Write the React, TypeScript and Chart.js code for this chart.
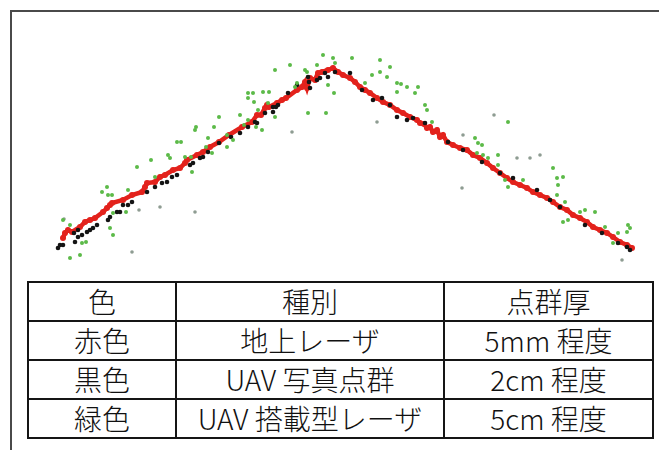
import React, { useEffect, useRef } from "react";
import { Chart, registerables } from "chart.js";

Chart.register(...registerables);

// Cross-section point clouds: x = horizontal position, y = elevation (relative units)
const redX = [63, 65, 68, 72, 80, 85, 90, 95, 103, 107, 110, 112, 123, 132, 142, 145, 147, 155, 160, 165, 173, 180, 185, 187, 197, 203, 210, 219, 229, 242, 252, 257, 261, 265, 267, 269, 277, 282, 286, 297, 302, 305, 307, 310, 315, 318, 322, 328, 333, 338, 343, 350, 355, 360, 365, 370, 377, 383, 390, 397, 403, 410, 417, 420, 424, 427, 430, 433, 437, 440, 443, 447, 453, 460, 467, 473, 480, 487, 493, 500, 507, 513, 520, 527, 533, 540, 547, 553, 560, 567, 573, 580, 587, 593, 600, 607, 613, 620, 627, 632];
const redY = [62, 67, 70, 68, 73, 78, 80, 82, 88, 92, 95, 97, 100, 105, 108, 113, 117, 118, 123, 125, 130, 132, 137, 140, 145, 148, 153, 158, 165, 173, 178, 185, 185, 192, 195, 193, 197, 200, 202, 210, 213, 218, 212, 222, 220, 227, 228, 230, 232, 228, 225, 222, 218, 213, 210, 207, 202, 198, 195, 190, 187, 183, 180, 177, 176, 172, 173, 168, 170, 163, 165, 158, 155, 152, 150, 145, 142, 137, 132, 127, 122, 118, 115, 112, 108, 105, 102, 98, 93, 90, 85, 82, 78, 73, 70, 67, 63, 58, 55, 52];

const blackX = [58, 60, 63, 74, 75, 78, 78, 82, 87, 90, 93, 97, 108, 110, 117, 120, 123, 128, 132, 147, 155, 162, 167, 172, 177, 190, 193, 200, 203, 208, 219, 231, 240, 248, 255, 257, 265, 273, 273, 276, 278, 288, 297, 308, 309, 310, 317, 320, 325, 328, 335, 350, 362, 373, 382, 390, 397, 407, 413, 425, 448, 463, 482, 500, 513, 537, 550, 560, 585, 602, 618, 627, 630];
const blackY = [52, 55, 55, 67, 58, 63, 70, 65, 68, 70, 72, 75, 80, 83, 88, 88, 95, 95, 98, 108, 113, 117, 118, 123, 125, 135, 137, 142, 143, 148, 157, 163, 167, 173, 178, 177, 187, 188, 193, 193, 195, 207, 215, 223, 218, 212, 220, 222, 227, 223, 228, 227, 210, 200, 202, 195, 183, 180, 182, 177, 158, 150, 138, 127, 122, 110, 100, 93, 75, 67, 57, 53, 50];

const greenX = [63, 70, 70, 80, 82, 86, 102, 107, 108, 112, 110, 113, 113, 126, 128, 137, 151, 155, 168, 170, 177, 181, 185, 192, 191, 196, 195, 206, 208, 212, 214, 219, 227, 227, 233, 240, 244, 248, 248, 248, 253, 254, 256, 258, 262, 263, 268, 269, 275, 275, 290, 295, 297, 305, 307, 308, 317, 323, 326, 328, 333, 334, 335, 352, 365, 372, 380, 380, 387, 390, 397, 397, 401, 407, 415, 418, 425, 427, 432, 475, 478, 482, 477, 483, 488, 498, 498, 505, 508, 508, 523, 553, 557, 563, 558, 557, 565, 580, 585, 595, 568, 563, 605, 618, 628, 630, 627, 613];
const greenY = [80, 75, 42, 45, 57, 58, 108, 113, 105, 105, 72, 65, 87, 88, 110, 133, 140, 123, 145, 142, 158, 158, 143, 128, 143, 173, 170, 153, 162, 147, 173, 183, 165, 153, 160, 185, 175, 207, 202, 180, 207, 198, 173, 190, 170, 208, 197, 208, 230, 183, 235, 213, 217, 230, 228, 187, 235, 245, 187, 215, 242, 207, 237, 242, 217, 225, 240, 228, 223, 233, 217, 208, 216, 213, 207, 213, 195, 190, 178, 162, 157, 155, 147, 145, 142, 145, 135, 120, 113, 178, 120, 132, 122, 123, 115, 105, 98, 88, 90, 88, 80, 78, 73, 67, 75, 72, 68, 57];

const grayX = [64, 132, 139, 160, 195, 292, 377, 462, 463, 494, 517, 530, 540, 622];
const grayY = [81, 48, 90, 93, 88, 168, 178, 112, 165, 185, 142, 142, 145, 40];

const headers = ["色", "種別", "点群厚"];
const colorNames = ["赤色", "黒色", "緑色"];
const kinds = ["地上レーザ", "UAV 写真点群", "UAV 搭載型レーザ"];
const thickness = ["5mm 程度", "2cm 程度", "5cm 程度"];

const pts = (xs: number[], ys: number[]) => xs.map((x, i) => ({ x, y: ys[i] }));

export default function App() {
  const ref = useRef<HTMLCanvasElement | null>(null);

  useEffect(() => {
    document.body.style.margin = "0";
    const ctx = ref.current!;
    const chart = new Chart(ctx, {
      type: "scatter",
      data: {
        datasets: [
          {
            label: "UAV搭載型レーザ",
            data: pts(greenX, greenY),
            backgroundColor: "#5cba48",
            borderColor: "#5cba48",
            pointRadius: 2,
            borderWidth: 0,
            order: 1,
          },
          {
            label: "outliers",
            data: pts(grayX, grayY),
            backgroundColor: "#8e9c92",
            borderColor: "#8e9c92",
            pointRadius: 1.8,
            borderWidth: 0,
            order: 1,
          },
          {
            label: "UAV写真点群",
            data: pts(blackX, blackY),
            backgroundColor: "#141414",
            borderColor: "#141414",
            pointRadius: 2.3,
            borderWidth: 0,
            order: 2,
          },
          {
            label: "地上レーザ",
            data: pts(redX, redY),
            showLine: true,
            backgroundColor: "#e3221c",
            borderColor: "#e3221c",
            borderWidth: 4.5,
            pointRadius: 3,
            pointBorderWidth: 0,
            tension: 0,
            order: 3,
          },
        ],
      },
      options: {
        animation: false,
        responsive: false,
        layout: { padding: 0, autoPadding: false },
        plugins: { legend: { display: false }, tooltip: { enabled: false } },
        scales: {
          x: { type: "linear", min: 0, max: 659, display: false },
          y: { type: "linear", min: 20, max: 300, display: false },
        },
      },
    });
    return () => chart.destroy();
  }, []);

  const font = '"Noto Sans CJK JP", "Noto Sans", sans-serif';
  const cell: React.CSSProperties = {
    border: "2px solid #151515",
    textAlign: "center",
    verticalAlign: "middle",
    padding: 0,
    fontSize: 28,
    fontWeight: 300,
    lineHeight: "35px",
    color: "#111",
  };
  const widths = [148, 268, 209];

  return (
    <div style={{ position: "absolute", left: 0, top: 0, width: 659, height: 450, background: "#fff", overflow: "hidden", fontFamily: font }}>
      <div style={{ position: "absolute", left: 10, top: 10, width: 660, height: 460, borderTop: "2px solid #4a4a4a", borderLeft: "2px solid #4a4a4a", boxSizing: "border-box" }} />
      <canvas ref={ref} width={659} height={280} style={{ position: "absolute", left: 0, top: 0, width: 659, height: 280 }} />
      <table style={{ position: "absolute", left: 27, top: 281, width: 626, height: 158, borderCollapse: "collapse", tableLayout: "fixed" }}>
        <colgroup>
          {widths.map((w, i) => <col key={i} style={{ width: w }} />)}
        </colgroup>
        <tbody>
          <tr>
            {headers.map((h, i) => <td key={i} style={cell}>{h}</td>)}
          </tr>
          {colorNames.map((c, r) => (
            <tr key={r}>
              <td style={cell}>{c}</td>
              <td style={cell}>{kinds[r]}</td>
              <td style={cell}>{thickness[r]}</td>
            </tr>
          ))}
        </tbody>
      </table>
    </div>
  );
}
